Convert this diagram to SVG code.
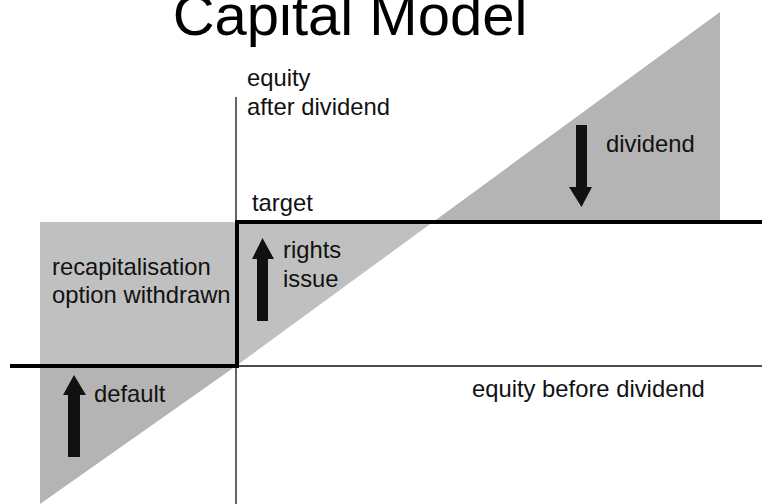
<svg xmlns="http://www.w3.org/2000/svg" width="762" height="504" viewBox="0 0 762 504">
  <style>
    .t { font-family: "Liberation Sans", Arial, sans-serif; font-size: 23.8px; fill: #111; }
    .light { fill: #c0c0c0; }
    .dark { fill: #b4b4b4; }
    .arrow { fill: #111; }
    .thick { stroke: #000; stroke-width: 4; fill: none; }
    .thin { stroke: #111; stroke-width: 1.3; fill: none; }
  </style>
  <rect width="762" height="504" fill="#fff"/>
  <g id="title">
    <text x="350" y="35" text-anchor="middle" style="font-family:'Liberation Sans', Arial, sans-serif; font-size:58px; fill:#000">Capital Model</text>
  </g>
  <g id="regions">
    <rect id="recap-region" class="light" x="40" y="222" width="196" height="144"/>
    <polygon id="default-region" class="dark" points="40,366 236,366 40,504"/>
    <polygon id="rights-region" class="light" points="236,222 433,222 236,366"/>
    <polygon id="dividend-region" class="dark" points="433,222 720,12 720,222"/>
  </g>
  <g id="connectors">
    <line class="thin" x1="236" y1="97" x2="236" y2="504"/>
    <line class="thin" x1="236" y1="366" x2="762" y2="366"/>
    <polyline class="thick" points="10,366 237,366 237,222 762,222"/>
  </g>
  <g id="default-arrow">
    <polygon class="arrow" points="68,457 80,457 80,395 86,395 74,375 63,395 68,395"/>
  </g>
  <g id="rights-arrow">
    <polygon class="arrow" points="257,321 268,321 268,259 274,259 262.5,238 252,259 257,259"/>
  </g>
  <g id="dividend-arrow">
    <polygon class="arrow" points="576,125 587,125 587,187 592,187 581.5,207 569,187 576,187"/>
  </g>
  <g id="labels">
    <text class="t" x="247" y="86">equity</text>
    <text class="t" x="247" y="115">after dividend</text>
    <text class="t" x="252" y="211">target</text>
    <text class="t" x="283" y="258">rights</text>
    <text class="t" x="283" y="287">issue</text>
    <text class="t" x="606" y="152">dividend</text>
    <text class="t" x="52" y="275">recapitalisation</text>
    <text class="t" x="52" y="303">option withdrawn</text>
    <text class="t" x="94" y="402">default</text>
    <text class="t" x="472" y="397">equity before dividend</text>
  </g>
</svg>
